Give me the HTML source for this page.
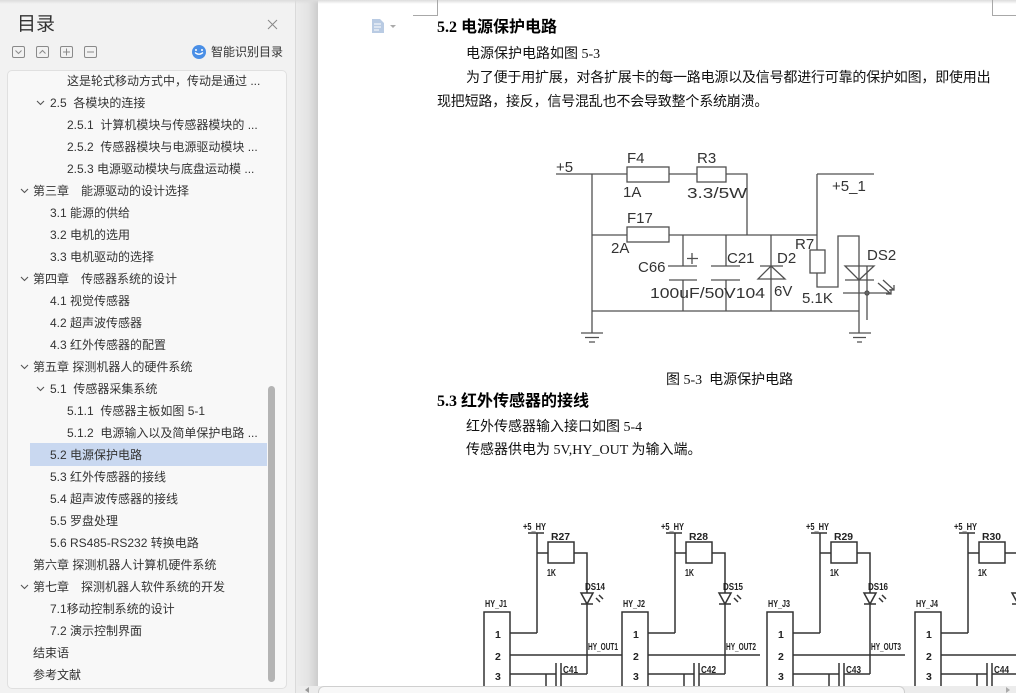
<!DOCTYPE html>
<html><head><meta charset="utf-8">
<style>
*{margin:0;padding:0;box-sizing:border-box}
html,body{width:1016px;height:693px;overflow:hidden;background:#fff;position:relative;font-family:"Liberation Sans","Noto Sans CJK SC",sans-serif}
#panel{position:absolute;left:0;top:0;width:296px;height:693px;background:#f2f2f2;border-right:1px solid #dadada}
#gutter{position:absolute;left:296px;top:0;width:22px;height:693px;background:linear-gradient(to right,#ececec,#e4e4e4 55%,#cdcdcd)}
#topbar{position:absolute;left:0;top:0;width:1016px;height:4px;background:linear-gradient(#dcdcdc,rgba(236,236,236,0))}
#list{position:absolute;left:7px;top:70px;width:280px;height:619px;background:#f8f8f8;border:1px solid #e0e0e0;border-radius:5px}
.it{position:absolute;height:22px;line-height:22px;font-size:12px;color:#333;white-space:nowrap}
.chev{position:absolute;width:9px;height:6px}
.dt{position:absolute;white-space:nowrap;font-family:"Liberation Serif","Noto Sans CJK SC",serif;font-size:14px;line-height:20px;color:#111}
.hd{position:absolute;white-space:nowrap;font-family:"Liberation Serif","Noto Sans CJK SC",serif;font-size:16px;line-height:22px;font-weight:bold;color:#000}
#hl{position:absolute;left:30px;top:443px;width:237px;height:23px;background:#c9d8f0}
#vs{position:absolute;left:268px;top:386px;width:7px;height:296px;background:#b4b4b4;border-radius:4px}
#hs{position:absolute;left:296px;top:686px;width:720px;height:7px;background:#ececec}
#hthumb{position:absolute;left:318px;top:686px;width:587px;height:8px;background:#f8f8f8;border:1px solid #cfcfcf;border-bottom:none;border-radius:6px 6px 0 0}
svg{position:absolute;left:0;top:0}
</style></head><body>

<div id="panel"></div>
<div id="gutter"></div>
<div id="list"></div>
<div id="topbar"></div>

<div style="position:absolute;left:17px;top:12px;font-size:19px;line-height:26px;color:#333;font-family:'Liberation Sans','Noto Sans CJK SC',sans-serif">目录</div>
<div style="position:absolute;left:211px;top:43px;font-size:12px;line-height:18px;color:#333">智能识别目录</div>

<div id="hl"></div>
<div id="vs"></div>

<div class="it" style="left:67px;top:70px">这是轮式移动方式中，传动是通过 ...</div>
<div class="it" style="left:50px;top:92px">2.5&nbsp;&nbsp;各模块的连接</div>
<div class="it" style="left:67px;top:114px">2.5.1&nbsp;&nbsp;计算机模块与传感器模块的 ...</div>
<div class="it" style="left:67px;top:136px">2.5.2&nbsp;&nbsp;传感器模块与电源驱动模块 ...</div>
<div class="it" style="left:67px;top:158px">2.5.3 电源驱动模块与底盘运动模 ...</div>
<div class="it" style="left:33px;top:180px">第三章　能源驱动的设计选择</div>
<div class="it" style="left:50px;top:202px">3.1 能源的供给</div>
<div class="it" style="left:50px;top:224px">3.2 电机的选用</div>
<div class="it" style="left:50px;top:246px">3.3 电机驱动的选择</div>
<div class="it" style="left:33px;top:268px">第四章　传感器系统的设计</div>
<div class="it" style="left:50px;top:290px">4.1 视觉传感器</div>
<div class="it" style="left:50px;top:312px">4.2 超声波传感器</div>
<div class="it" style="left:50px;top:334px">4.3 红外传感器的配置</div>
<div class="it" style="left:33px;top:356px">第五章 探测机器人的硬件系统</div>
<div class="it" style="left:50px;top:378px">5.1&nbsp;&nbsp;传感器采集系统</div>
<div class="it" style="left:67px;top:400px">5.1.1&nbsp;&nbsp;传感器主板如图 5-1</div>
<div class="it" style="left:67px;top:422px">5.1.2&nbsp;&nbsp;电源输入以及简单保护电路 ...</div>
<div class="it" style="left:50px;top:444px">5.2 电源保护电路</div>
<div class="it" style="left:50px;top:466px">5.3 红外传感器的接线</div>
<div class="it" style="left:50px;top:488px">5.4 超声波传感器的接线</div>
<div class="it" style="left:50px;top:510px">5.5 罗盘处理</div>
<div class="it" style="left:50px;top:532px">5.6 RS485-RS232 转换电路</div>
<div class="it" style="left:33px;top:554px">第六章 探测机器人计算机硬件系统</div>
<div class="it" style="left:33px;top:576px">第七章　探测机器人软件系统的开发</div>
<div class="it" style="left:50px;top:598px">7.1移动控制系统的设计</div>
<div class="it" style="left:50px;top:620px">7.2 演示控制界面</div>
<div class="it" style="left:33px;top:642px">结束语</div>
<div class="it" style="left:33px;top:664px">参考文献</div>

<!-- document text -->
<div class="hd" style="left:437px;top:17px">5.2 电源保护电路</div>
<div class="dt" style="left:466px;top:45px">电源保护电路如图 5-3</div>
<div class="dt" style="left:466px;top:69px;letter-spacing:-0.2px">为了便于用扩展，对各扩展卡的每一路电源以及信号都进行可靠的保护如图，即使用出</div>
<div class="dt" style="left:437px;top:93px;letter-spacing:-0.2px">现把短路，接反，信号混乱也不会导致整个系统崩溃。</div>
<div class="dt" style="left:666px;top:371px">图 5-3&nbsp;&nbsp;电源保护电路</div>
<div class="hd" style="left:437px;top:391px">5.3 红外传感器的接线</div>
<div class="dt" style="left:466px;top:418px">红外传感器输入接口如图 5-4</div>
<div class="dt" style="left:466px;top:441px">传感器供电为 5V,HY_OUT 为输入端。</div>

<svg width="1016" height="693" viewBox="0 0 1016 693">
  <!-- panel icons -->
  <g fill="none" stroke="#8a8a8a" stroke-width="1">
    <rect x="12.5" y="46.5" width="12" height="11" rx="1.5"/>
    <polyline points="15.5,50.5 18.5,53.5 21.5,50.5"/>
    <rect x="36.5" y="46.5" width="12" height="11" rx="1.5"/>
    <polyline points="39.5,53.5 42.5,50.5 45.5,53.5"/>
    <rect x="60.5" y="46.5" width="12" height="11" rx="1.5"/>
    <path d="M63 52H70M66.5 48.5V55.5"/>
    <rect x="84.5" y="46.5" width="12" height="11" rx="1.5"/>
    <path d="M87 52H94"/>
    <path d="M268 20L277 29M277 20L268 29" stroke="#888"/>
  </g>
  <circle cx="199" cy="52" r="7" fill="#4a8fe6"/>
  <path d="M195 52.5Q199 56 203 52.5" stroke="#fff" stroke-width="1.3" fill="none"/>
  <circle cx="196" cy="50" r="1" fill="#fff"/><circle cx="202" cy="50" r="1" fill="#fff"/>
  <!-- chevrons -->
  <g fill="none" stroke="#555" stroke-width="1.1">
    <polyline points="37,101 40.5,104.5 44,101"/>
    <polyline points="21,189 24.5,192.5 28,189"/>
    <polyline points="21,277 24.5,280.5 28,277"/>
    <polyline points="21,365 24.5,368.5 28,365"/>
    <polyline points="37,387 40.5,390.5 44,387"/>
    <polyline points="21,585 24.5,588.5 28,585"/>
  </g>

  <!-- crop marks and doc icon -->
  <path d="M437.5 0V15.5H413M992.5 0V15.5H1016" stroke="#a8a8a8" fill="none"/>
  <path d="M372 19H380L384 23V33H372Z" fill="#b9cbe3"/>
  <path d="M374 24H381M374 27H381M374 30H379" stroke="#fff" stroke-width="1"/>
  <path d="M390 25H396L393 28Z" fill="#aaa"/>

  <!-- Circuit 5-3 -->
  <g stroke="#505050" stroke-width="1.3" fill="none">
    <path d="M556 174H627M669 174H697M726 174H747V235"/>
    <rect x="627" y="167" width="42" height="15"/>
    <rect x="697" y="167" width="29" height="15"/>
    <path d="M592 174V333"/>
    <path d="M581 333H603M585 337.5H599M589 342H595"/>
    <path d="M592 235H627M669 235H817"/>
    <rect x="627" y="227" width="42" height="15"/>
    <path d="M683 235V266M683 280V311M668 266H697M669 280H697"/>
    <path d="M692 253V264M687 258.5H698"/>
    <path d="M726 235V266M726 280V311M711 266H740M711 280H740"/>
    <path d="M592 311H859"/>
    <path d="M771 235V311"/>
    <path d="M758 279H785L771 266Z"/>
    <path d="M760 266H783"/>
    <path d="M817 174V250M817 174H874"/>
    <rect x="810" y="250" width="15" height="23"/>
    <path d="M817 273V287H838V236H859V333"/>
    <path d="M845 266H874L859 280ZM845 280H874"/>
    <path d="M867 266V320M843 293H890"/>
    <circle cx="867" cy="293" r="2"/>
    <path d="M878 283L891 294M883 280L894 290M886 294H891V289M889 290H894V285"/>
    <path d="M849 333H871M853 337.5H866M857 342H862"/>
  </g>
  <g font-family="Liberation Sans, sans-serif" font-size="15" fill="#333">
    <text x="556" y="172">+5</text>
    <text x="627" y="163">F4</text>
    <text x="697" y="163">R3</text>
    <text x="623" y="197">1A</text>
    <text x="687" y="198" textLength="60" lengthAdjust="spacingAndGlyphs">3.3/5W</text>
    <text x="627" y="223">F17</text>
    <text x="611" y="253">2A</text>
    <text x="638" y="272">C66</text>
    <text x="727" y="263">C21</text>
    <text x="650" y="298" textLength="115" lengthAdjust="spacingAndGlyphs">100uF/50V104</text>
    <text x="777" y="263">D2</text>
    <text x="774" y="296">6V</text>
    <text x="832" y="191">+5_1</text>
    <text x="795" y="249">R7</text>
    <text x="802" y="303">5.1K</text>
    <text x="867" y="260">DS2</text>
  </g>

  <!-- Circuit 5-4 units -->
  <g stroke="#333" stroke-width="1.5" fill="none">
    <g>
      <path d="M528 533H544M537 533V633M537 553H548M574 553H587V593M587 604V674M510 633H537M510 655H622M510 674H556M561 674H587M546 674V700M556 663V700M561 663V700M484 700V612H510V700"/>
      <rect x="548" y="542" width="26" height="21"/>
      <path d="M581 593H593L587 604ZM581 604H593"/>
      <path d="M596 598L600 602M599 595L603 599"/>
    </g>
    <g transform="translate(138,0)">
      <path d="M528 533H544M537 533V633M537 553H548M574 553H587V593M587 604V674M510 633H537M510 655H622M510 674H556M561 674H587M546 674V700M556 663V700M561 663V700M484 700V612H510V700"/>
      <rect x="548" y="542" width="26" height="21"/>
      <path d="M581 593H593L587 604ZM581 604H593"/>
      <path d="M596 598L600 602M599 595L603 599"/>
    </g>
    <g transform="translate(283,0)">
      <path d="M528 533H544M537 533V633M537 553H548M574 553H587V593M587 604V674M510 633H537M510 655H622M510 674H556M561 674H587M546 674V700M556 663V700M561 663V700M484 700V612H510V700"/>
      <rect x="548" y="542" width="26" height="21"/>
      <path d="M581 593H593L587 604ZM581 604H593"/>
      <path d="M596 598L600 602M599 595L603 599"/>
    </g>
    <g transform="translate(431,0)">
      <path d="M528 533H544M537 533V633M537 553H548M574 553H587V593M587 604V674M510 633H537M510 655H622M510 674H556M561 674H587M546 674V700M556 663V700M561 663V700M484 700V612H510V700"/>
      <rect x="548" y="542" width="26" height="21"/>
      <path d="M581 593H593L587 604ZM581 604H593"/>
    </g>
  </g>
  <g font-family="Liberation Sans, sans-serif" font-size="10.5" font-weight="bold" fill="#222">
    <g>
      <text x="523" y="530" textLength="23" lengthAdjust="spacingAndGlyphs">+5_HY</text>
      <text x="551" y="540" textLength="19" lengthAdjust="spacingAndGlyphs">R27</text>
      <text x="547" y="576" textLength="9" lengthAdjust="spacingAndGlyphs">1K</text>
      <text x="585" y="590" textLength="20" lengthAdjust="spacingAndGlyphs">DS14</text>
      <text x="485" y="607" textLength="22" lengthAdjust="spacingAndGlyphs">HY_J1</text>
      <text x="495" y="638">1</text><text x="495" y="660">2</text><text x="495" y="680">3</text>
      <text x="588" y="650" textLength="30" lengthAdjust="spacingAndGlyphs">HY_OUT1</text>
      <text x="563" y="673" textLength="15" lengthAdjust="spacingAndGlyphs">C41</text>
    </g>
    <g transform="translate(138,0)">
      <text x="523" y="530" textLength="23" lengthAdjust="spacingAndGlyphs">+5_HY</text>
      <text x="551" y="540" textLength="19" lengthAdjust="spacingAndGlyphs">R28</text>
      <text x="547" y="576" textLength="9" lengthAdjust="spacingAndGlyphs">1K</text>
      <text x="585" y="590" textLength="20" lengthAdjust="spacingAndGlyphs">DS15</text>
      <text x="485" y="607" textLength="22" lengthAdjust="spacingAndGlyphs">HY_J2</text>
      <text x="495" y="638">1</text><text x="495" y="660">2</text><text x="495" y="680">3</text>
      <text x="588" y="650" textLength="30" lengthAdjust="spacingAndGlyphs">HY_OUT2</text>
      <text x="563" y="673" textLength="15" lengthAdjust="spacingAndGlyphs">C42</text>
    </g>
    <g transform="translate(283,0)">
      <text x="523" y="530" textLength="23" lengthAdjust="spacingAndGlyphs">+5_HY</text>
      <text x="551" y="540" textLength="19" lengthAdjust="spacingAndGlyphs">R29</text>
      <text x="547" y="576" textLength="9" lengthAdjust="spacingAndGlyphs">1K</text>
      <text x="585" y="590" textLength="20" lengthAdjust="spacingAndGlyphs">DS16</text>
      <text x="485" y="607" textLength="22" lengthAdjust="spacingAndGlyphs">HY_J3</text>
      <text x="495" y="638">1</text><text x="495" y="660">2</text><text x="495" y="680">3</text>
      <text x="588" y="650" textLength="30" lengthAdjust="spacingAndGlyphs">HY_OUT3</text>
      <text x="563" y="673" textLength="15" lengthAdjust="spacingAndGlyphs">C43</text>
    </g>
    <g transform="translate(431,0)">
      <text x="523" y="530" textLength="23" lengthAdjust="spacingAndGlyphs">+5_HY</text>
      <text x="551" y="540" textLength="19" lengthAdjust="spacingAndGlyphs">R30</text>
      <text x="547" y="576" textLength="9" lengthAdjust="spacingAndGlyphs">1K</text>
      <text x="485" y="607" textLength="22" lengthAdjust="spacingAndGlyphs">HY_J4</text>
      <text x="495" y="638">1</text><text x="495" y="660">2</text><text x="495" y="680">3</text>
      <text x="563" y="673" textLength="15" lengthAdjust="spacingAndGlyphs">C44</text>
    </g>
  </g>
</svg>

<div id="hs"></div>
<div id="hthumb"></div>
<svg width="1016" height="693" viewBox="0 0 1016 693" style="pointer-events:none">
  <path d="M309 687L305 690L309 693Z" fill="#999"/>
  <path d="M1006 687L1010 690L1006 693Z" fill="#aaa"/>
</svg>
</body></html>
